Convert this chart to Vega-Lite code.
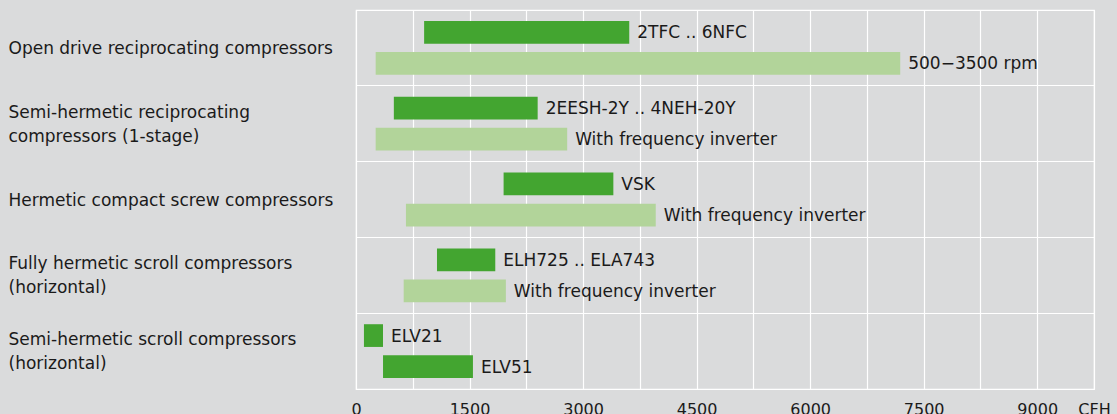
{
  "$schema": "https://vega.github.io/schema/vega-lite/v6.json",
  "width": 738,
  "height": 379,
  "autosize": "none",
  "padding": {"left": 356, "top": 10, "right": 23, "bottom": 25},
  "background": "#dadbdc",
  "config": {
    "view": {"stroke": "white", "strokeWidth": 1.2, "fill": "#dadbdc"},
    "font": "DejaVu Sans",
    "text": {"font": "DejaVu Sans"}
  },
  "data": {
    "values": [
      {"cat": "Open drive reciprocating compressors", "sub": "a", "kind": "dark", "start": 900, "end": 3610, "label": "2TFC .. 6NFC"},
      {"cat": "Open drive reciprocating compressors", "sub": "b", "kind": "light", "start": 260, "end": 7190, "label": "500−3500 rpm"},
      {"cat": "Semi-hermetic reciprocating|compressors (1-stage)", "sub": "a", "kind": "dark", "start": 500, "end": 2400, "label": "2EESH-2Y .. 4NEH-20Y"},
      {"cat": "Semi-hermetic reciprocating|compressors (1-stage)", "sub": "b", "kind": "light", "start": 260, "end": 2790, "label": "With frequency inverter"},
      {"cat": "Hermetic compact screw compressors", "sub": "a", "kind": "dark", "start": 1950, "end": 3400, "label": "VSK"},
      {"cat": "Hermetic compact screw compressors", "sub": "b", "kind": "light", "start": 660, "end": 3960, "label": "With frequency inverter"},
      {"cat": "Fully hermetic scroll compressors|(horizontal)", "sub": "a", "kind": "dark", "start": 1070, "end": 1840, "label": "ELH725 .. ELA743"},
      {"cat": "Fully hermetic scroll compressors|(horizontal)", "sub": "b", "kind": "light", "start": 630, "end": 1980, "label": "With frequency inverter"},
      {"cat": "Semi-hermetic scroll compressors|(horizontal)", "sub": "a", "kind": "dark", "start": 105, "end": 357, "label": "ELV21"},
      {"cat": "Semi-hermetic scroll compressors|(horizontal)", "sub": "b", "kind": "dark", "start": 357, "end": 1545, "label": "ELV51"}
    ]
  },
  "encoding": {
    "y": {
      "field": "cat",
      "type": "nominal",
      "sort": null,
      "title": null,
      "scale": {"paddingInner": 0, "paddingOuter": 0},
      "axis": {
        "labelExpr": "split(datum.label, '|')",
        "labelAlign": "left",
        "labelBaseline": "middle",
        "labelPadding": 348,
        "labelFontSize": 17,
        "labelLineHeight": 24,
        "labelOffset": {"condition": {"test": "indexof(datum.value, '|') >= 0", "value": -11}, "value": 1},
        "labelColor": "#1a1a1a",
        "labelLimit": 400,
        "ticks": false,
        "domain": false,
        "grid": true,
        "gridColor": "white",
        "gridWidth": 1.2,
        "bandPosition": 0
      }
    },
    "yOffset": {
      "field": "sub",
      "type": "nominal",
      "scale": {"paddingInner": 0.268, "paddingOuter": 0.355}
    }
  },
  "layer": [
    {
      "mark": {"type": "bar"},
      "encoding": {
        "x": {
          "field": "start",
          "type": "quantitative",
          "title": null,
          "scale": {"domain": [0, 9750], "nice": false, "zero": true},
          "axis": {
            "values": [0, 750, 1500, 2250, 3000, 3750, 4500, 5250, 6000, 6750, 7500, 8250, 9000, 9750],
            "labelExpr": "datum.value == 9750 ? 'CFH' : (datum.value % 1500 == 0 ? format(datum.value, 'd') : '')",
            "labelFontSize": 16,
            "labelColor": "#1a1a1a",
            "labelPadding": 12,
            "labelFlush": false,
            "labelOverlap": false,
            "ticks": false,
            "domain": false,
            "grid": true,
            "gridColor": "white",
            "gridWidth": 1.2
          }
        },
        "x2": {"field": "end"},
        "color": {
          "field": "kind",
          "type": "nominal",
          "scale": {"domain": ["dark", "light"], "range": ["#43a530", "#b2d49a"]},
          "legend": null
        }
      }
    },
    {
      "mark": {"type": "text", "align": "left", "baseline": "middle", "dx": 8, "dy": 1, "fontSize": 17, "color": "#1a1a1a"},
      "encoding": {
        "x": {"field": "end", "type": "quantitative"},
        "text": {"field": "label"}
      }
    }
  ]
}
